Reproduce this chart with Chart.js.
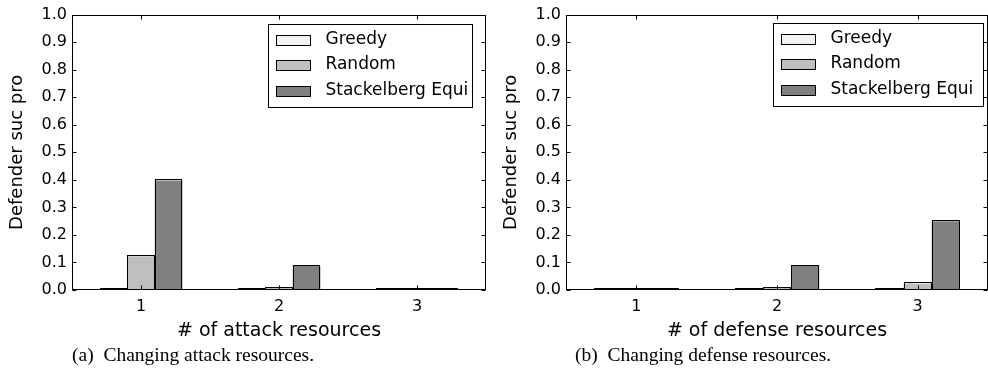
<!DOCTYPE html>
<html>
<head>
<meta charset="utf-8">
<script src="https://cdn.jsdelivr.net/npm/chart.js@4/dist/chart.umd.min.js"></script>
<style>
  html, body { margin: 0; padding: 0; background: #fff; }
  body { width: 988px; height: 377px; position: relative; overflow: hidden; }
  .wrap { position: absolute; top: 0; height: 345px; width: 494px; }
  .cap { position: absolute; top: 342px; font-family: "Liberation Serif", "Times New Roman", serif; font-size: 19.5px; color: #000; white-space: nowrap; line-height: 26px; }
</style>
</head>
<body>
<div class="wrap" style="left:0"><canvas id="c1"></canvas></div>
<div class="wrap" style="left:494px"><canvas id="c2"></canvas></div>
<div class="cap" style="left:72px">(a)&nbsp; Changing attack resources.</div>
<div class="cap" style="left:575px">(b)&nbsp; Changing defense resources.</div>
<script>
// ---- data ----
const categories = ['1', '2', '3'];
const seriesNames = ['Greedy', 'Random', 'Stackelberg Equi'];
const attackGreedy = [0.003, 0.003, 0.003];
const attackRandom = [0.123, 0.008, 0.003];
const attackStackelberg = [0.398, 0.087, 0.003];
const defenseGreedy = [0.003, 0.003, 0.003];
const defenseRandom = [0.003, 0.008, 0.024];
const defenseStackelberg = [0.003, 0.088, 0.25];
const yTicks = [0, 0.1, 0.2, 0.3, 0.4, 0.5, 0.6, 0.7, 0.8, 0.9, 1.0];
const xTitleA = '# of attack resources';
const xTitleB = '# of defense resources';
const yTitle = 'Defender suc pro';

const fills = ['#f2f2f2', '#bfbfbf', '#808080'];
const FONT = '"DejaVu Sans", sans-serif';

const boxPlugin = {
  id: 'mplBox',
  afterDatasetsDraw(chart, args, opts) {
    const { ctx, chartArea: a, scales: { x, y } } = chart;
    ctx.save();
    ctx.strokeStyle = '#000';
    ctx.lineWidth = 1;
    // bar outlines (from the library's bar elements)
    chart.data.datasets.forEach((ds, i) => {
      chart.getDatasetMeta(i).data.forEach(bar => {
        const p = bar.getProps(['x', 'y', 'base', 'width'], true);
        const l = Math.round(p.x - p.width / 2) + 0.5;
        const r = Math.round(p.x + p.width / 2) - 0.5;
        const t = Math.round(p.y) - 0.5;
        const b = Math.round(p.base) - 0.5;
        ctx.strokeRect(l, t, r - l, Math.max(b - t, 1));
      });
    });
    const L = Math.round(a.left) + 0.5, R = Math.round(a.right) - 0.5;
    const T = Math.round(a.top) + 0.5, B = Math.round(a.bottom) - 0.5;
    ctx.strokeRect(L, T, R - L, B - T);
    ctx.beginPath();
    y.ticks.forEach((t, i) => {
      const py = Math.round(y.getPixelForTick(i)) + 0.5;
      ctx.moveTo(L, py); ctx.lineTo(L + 4, py);
      ctx.moveTo(R, py); ctx.lineTo(R - 4, py);
    });
    x.ticks.forEach((t, i) => {
      const px = Math.round(x.getPixelForTick(i)) + 0.5;
      ctx.moveTo(px, B); ctx.lineTo(px, B - 4);
      ctx.moveTo(px, T); ctx.lineTo(px, T + 4);
    });
    ctx.stroke();
    // legend box
    const bw = opts.width, bh = 83;
    const bx = Math.round(a.right - opts.right - bw) + 0.5;
    const by = Math.round(a.top + opts.top) + 0.5;
    ctx.fillStyle = '#fff';
    ctx.fillRect(bx, by, bw, bh);
    ctx.strokeRect(bx, by, bw, bh);
    ctx.font = '17px ' + FONT;
    ctx.textBaseline = 'middle';
    chart.data.datasets.forEach((ds, i) => {
      const cy = by + 15 + i * 25.5;
      ctx.fillStyle = ds.backgroundColor;
      ctx.fillRect(bx + 8, Math.round(cy - 5) + 0.5, 34, 10);
      ctx.strokeRect(bx + 8, Math.round(cy - 5) + 0.5, 34, 10);
      ctx.fillStyle = '#000';
      ctx.fillText(ds.label, bx + 57, cy);
    });
    ctx.restore();
  }
};

function makeChart(id, series, xTitle, padRight, legendOpts) {
  return new Chart(document.getElementById(id), {
    type: 'bar',
    data: {
      labels: categories,
      datasets: series.map((vals, i) => ({
        label: seriesNames[i],
        data: vals,
        backgroundColor: fills[i],
        borderWidth: 0,
        categoryPercentage: 0.6,
        barPercentage: 1.0
      }))
    },
    options: {
      responsive: true,
      maintainAspectRatio: false,
      animation: false,
      layout: { padding: { top: 14, right: padRight, left: 0, bottom: 0 } },
      plugins: { legend: { display: false }, tooltip: { enabled: false }, mplBox: legendOpts },
      scales: {
        x: {
          grid: { display: false, drawTicks: false },
          border: { display: false },
          ticks: { color: '#000', font: { family: FONT, size: 16 }, padding: 7 },
          title: { display: true, text: xTitle, color: '#000', font: { family: FONT, size: 19 }, padding: { top: 4, bottom: 3 } },
          afterFit(s) { s.height = 55; }
        },
        y: {
          min: 0, max: 1,
          afterBuildTicks(s) { s.ticks = yTicks.map(v => ({ value: v })); },
          grid: { display: false, drawTicks: false },
          border: { display: false },
          ticks: { color: '#000', font: { family: FONT, size: 16 }, padding: 5, callback: v => Number(v).toFixed(1) },
          title: { display: true, text: yTitle, color: '#000', font: { family: FONT, size: 18 }, padding: { top: 7, bottom: 0 } },
          afterFit(s) { s.width = 72; }
        }
      }
    },
    plugins: [boxPlugin]
  });
}

makeChart('c1', [attackGreedy, attackRandom, attackStackelberg], xTitleA, 8, { width: 204, right: 14, top: 9 });
makeChart('c2', [defenseGreedy, defenseRandom, defenseStackelberg], xTitleB, 0, { width: 210, right: 5, top: 8 });
</script>
</body>
</html>
